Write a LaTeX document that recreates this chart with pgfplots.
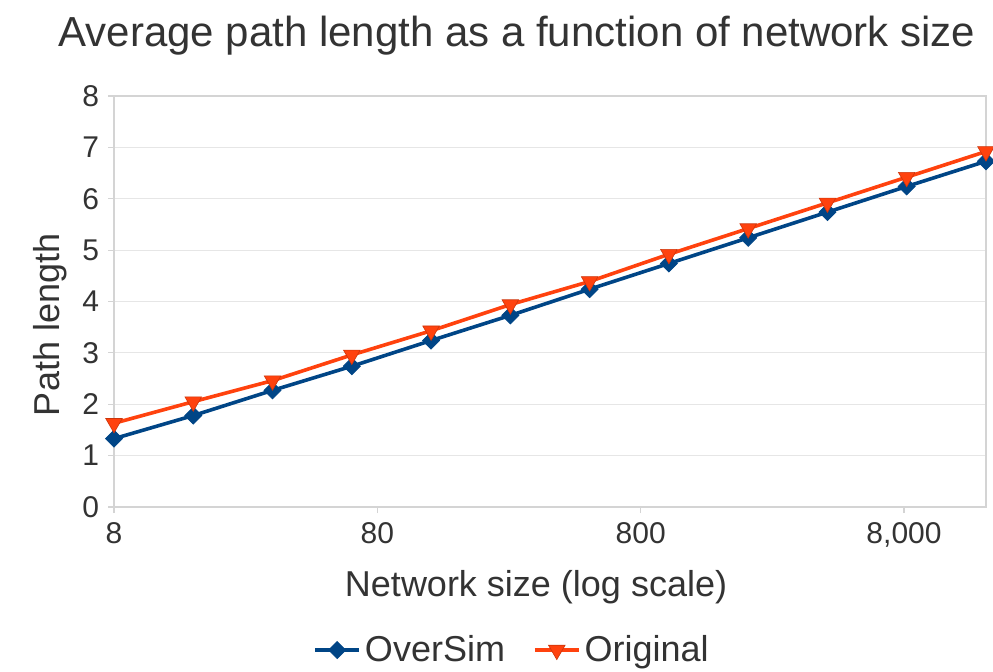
\documentclass[border=0pt]{standalone}
\usepackage{pgfplots}
\pgfplotsset{compat=1.18}
\usepackage{fontspec}
\setmainfont{Liberation Sans}
\definecolor{osblue}{HTML}{004586}
\definecolor{origred}{HTML}{FF420E}
\definecolor{txt}{HTML}{333333}
\definecolor{gridc}{HTML}{E6E6E6}
\definecolor{axc}{HTML}{D4D4D4}
\begin{document}
\begin{tikzpicture}
\useasboundingbox (0,0) rectangle (496.5pt,335.5pt);
\begin{axis}[
  at={(57pt,82pt)}, anchor=south west,
  scale only axis, width=436pt, height=205.5pt,
  xmode=log, log basis x=10,
  xmin=8, xmax=16384, ymin=0, ymax=8,
  xtick={8,80,800,8000}, xticklabels={8,80,800,{8,000}},
  ytick={0,1,2,3,4,5,6,7,8},
  minor xtick={},
  ymajorgrids, grid style={gridc, line width=0.6pt},
  axis line style={axc, line width=0.6pt},
  tick style={axc, line width=0.6pt},
  tick align=outside, major tick length=3pt,
  xtick pos=bottom, ytick pos=left,
  /pgf/number format/assume math mode=true,
  tick label style={font=\fontsize{15}{18}\selectfont, text=txt},
  yticklabel style={xshift=-1pt},
  xticklabel style={yshift=-1pt},
  title={Average path length as a function of network size},
  title style={font=\fontsize{21}{25}\selectfont, text=txt, at={(axis description cs:0.462,1.117)}, anchor=center},
  xlabel={Network size (log scale)},
  xlabel style={font=\fontsize{18}{22}\selectfont, text=txt, at={(axis description cs:0.484,-0.195)}, anchor=center},
  ylabel={Path length},
  ylabel style={font=\fontsize{18}{22}\selectfont, text=txt, at={(axis description cs:-0.0734,0.443)}, anchor=center},
  legend style={at={(axis description cs:0.4576,-0.348)}, anchor=center, draw=none, fill=none,
    font=\fontsize{18}{22}\selectfont, text=txt, legend columns=2,
    /tikz/every even column/.append style={column sep=12pt}},
  legend image code/.code={\draw[#1, mark repeat=2, mark phase=2] plot coordinates {(0pt,0pt) (11pt,0pt) (22pt,0pt)};},
  clip=false,
]
\addplot[osblue, line width=1.8pt, mark=square*, mark size=3pt, mark options={rotate=45, solid, fill=osblue, draw=osblue, line width=0.4pt}]
coordinates {
(8,1.33) (16,1.78) (32,2.27) (64,2.74) (128,3.24) (256,3.73)
(512,4.24) (1024,4.74) (2048,5.24) (4096,5.74) (8192,6.24) (16384,6.73)
};
\addlegendentry{OverSim}
\addplot[origred, line width=1.8pt, mark=triangle*, mark size=4.8pt, mark options={rotate=180, solid, fill=origred, draw=origred!80!black, line width=0.3pt}]
coordinates {
(8,1.63) (16,2.05) (32,2.46) (64,2.96) (128,3.43) (256,3.94)
(512,4.39) (1024,4.92) (2048,5.42) (4096,5.92) (8192,6.42) (16384,6.92)
};
\addlegendentry{Original}
\end{axis}
\end{tikzpicture}
\end{document}
